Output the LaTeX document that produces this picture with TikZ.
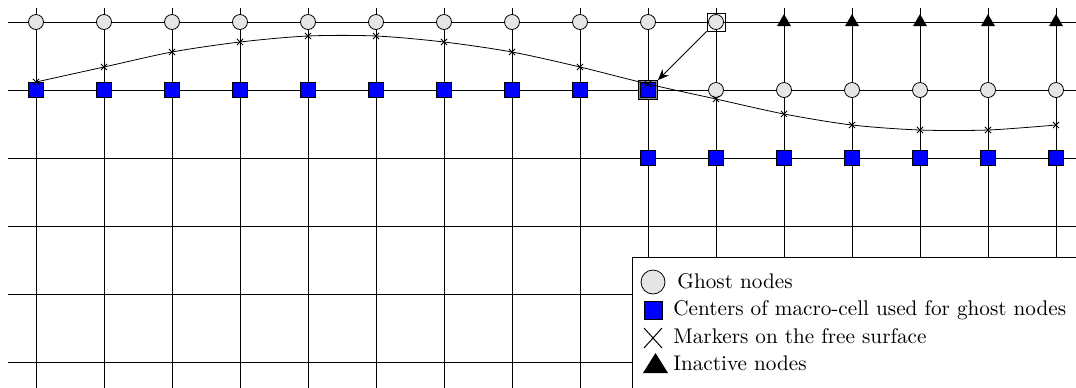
\documentclass[tikz,border=0pt]{standalone}
\usetikzlibrary{arrows.meta,shapes.geometric,plotmarks}
\begin{document}
\begin{tikzpicture}[x=0.5pt,y=-0.5pt,
  gridline/.style={black,line width=0.4pt},
  ghost/.style={circle,draw,fill=black!10,minimum size=7.5pt,inner sep=0pt},
  macro/.style={rectangle,draw,fill=blue,minimum size=7.5pt,inner sep=0pt},
  inactive/.style={regular polygon,regular polygon sides=3,fill=black,minimum size=8pt,inner sep=0pt},
  pickbox/.style={rectangle,draw,minimum size=9pt,inner sep=0pt},
  usedbox/.style={rectangle,draw,fill=black!45,minimum size=9.5pt,inner sep=0pt},
  legtext/.style={anchor=base west,inner sep=0pt,font=\fontsize{10.6}{13}\selectfont}]
\useasboundingbox (0,0) rectangle (1076,387);

% mesh
\foreach \i in {0,...,15}
  \draw[gridline] (36+68*\i,8) -- (36+68*\i,390);
\foreach \j in {0,...,5}
  \draw[gridline] (8,22+68*\j) -- (1080,22+68*\j);

% top row: ghost nodes, then inactive nodes
\foreach \i in {0,...,9}
  \node[ghost] (g0-\i) at (36+68*\i,22) {};
\node[pickbox] (pick) at (716,22) {};
\node[ghost] (g0-10) at (716,22) {};
\foreach \i in {11,...,15}
  \node[inactive] (t-\i) at (36+68*\i,22) {};

% second row: macro-cell centres, then ghost nodes
\foreach \i in {0,...,8}
  \node[macro] (m1-\i) at (36+68*\i,90) {};
\node[usedbox] (used) at (648,90) {};
\node[macro] (m1-9) at (648,90) {};
\foreach \i in {10,...,15}
  \node[ghost] (g1-\i) at (36+68*\i,90) {};

% third row: macro-cell centres
\foreach \i in {9,...,15}
  \node[macro] (m2-\i) at (36+68*\i,158) {};

% free surface with its markers
\draw[line width=0.4pt] plot[smooth,mark=x,mark size=2.2pt,mark options={line width=0.4pt}]
  coordinates {(36,82) (104,67) (172,52) (240,42) (308,36) (376,36) (444,42)
               (512,52) (580,67) (648,84) (716,99) (784,114) (852,125)
               (920,130) (988,130) (1056,125)};

% interpolation link
\draw[-{Stealth[length=5.5pt,width=4.5pt]},line width=0.4pt] (pick.south west) -- (used.north east);

% legend
\node[rectangle,draw,fill=white,anchor=north west,minimum width=230pt,minimum height=70pt,inner sep=0pt] (legend) at (632,257) {};
\node[circle,draw,fill=black!10,minimum size=12pt,inner sep=0pt] (lg1) at (653,282) {};
\node[legtext] (lt1) at (677,288) {Ghost nodes};
\node[rectangle,draw,fill=blue,minimum size=9pt,inner sep=0pt] (lg2) at (653,310) {};
\node[legtext] (lt2) at (673,315) {Centers of macro-cell used for ghost nodes};
\draw[line width=0.5pt] (644,328) -- (662,348) (644,348) -- (662,328);
\node[legtext] (lt3) at (673,343) {Markers on the free surface};
\fill (643,373) -- (668,373) -- (655.5,353) -- cycle;
\node[legtext] (lt4) at (673,370) {Inactive nodes};
\end{tikzpicture}
\end{document}
